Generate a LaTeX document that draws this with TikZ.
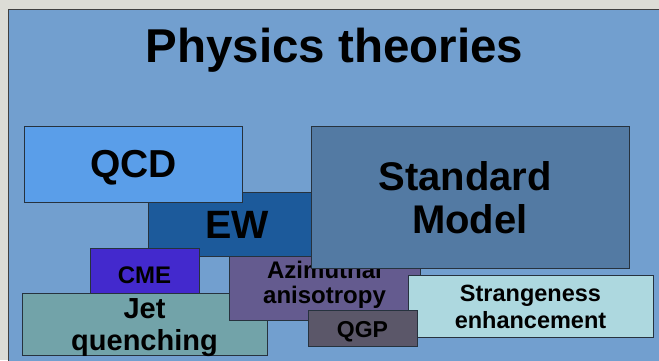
\documentclass[tikz,border=0pt]{standalone}
\usepackage{fontspec}
\setmainfont{Liberation Sans}
\definecolor{outerbg}{HTML}{DCDCD6}
\definecolor{panel}{HTML}{729FCF}
\definecolor{boxline}{HTML}{26323E}
\definecolor{cqcd}{HTML}{5A9EE9}
\definecolor{cew}{HTML}{1C5A9B}
\definecolor{csm}{HTML}{537AA3}
\definecolor{ccme}{HTML}{4329CD}
\definecolor{caz}{HTML}{645B8F}
\definecolor{cjet}{HTML}{72A3A9}
\definecolor{cqgp}{HTML}{5B5769}
\definecolor{cstr}{HTML}{ADD8DF}
\newcommand{\fs}[2]{\fontsize{#1}{#2}\selectfont\bfseries}
\begin{document}
\begin{tikzpicture}[x=1pt,y=-1pt,
  box/.style={draw=boxline, line width=0.8pt, inner sep=0pt, rectangle},
  lbl/.style={anchor=base, inner sep=0pt}]
\useasboundingbox (0,0) rectangle (659,360);
\fill[outerbg] (0,0) rectangle (659,360);
\filldraw[fill=panel, draw=black!75, line width=0.8pt] (8,9) rectangle (664,366);
\node[lbl, font=\fs{47.5}{52}] (title) at (334.5,62) {Physics theories};
% EW
\node[box, fill=cew, minimum width=178pt, minimum height=64pt] (ew) at (237,224) {};
\node[lbl, font=\fs{39.5}{42}] (ewt) at (237,238) {EW};
% QCD
\node[box, fill=cqcd, minimum width=218pt, minimum height=76pt] (qcd) at (133,164) {};
\node[lbl, font=\fs{39}{42}] (qcdt) at (133.5,177) {QCD};
% CME
\node[box, fill=ccme, minimum width=109pt, minimum height=45pt] (cme) at (144.5,270.5) {};
\node[lbl, font=\fs{24}{26}] (cmet) at (144.5,283) {CME};
% Jet quenching
\node[box, fill=cjet, minimum width=245pt, minimum height=62pt] (jet) at (144.5,324) {};
\node[lbl, font=\fs{29}{32}] (jett1) at (144.5,318) {Jet};
\node[lbl, font=\fs{29}{32}] (jett2) at (144.5,350) {quenching};
% Azimuthal anisotropy
\node[box, fill=caz, minimum width=191pt, minimum height=64pt] (az) at (324.5,288) {};
\node[lbl, font=\fs{24}{26}] (azt1) at (324.5,278) {Azimuthal};
\node[lbl, font=\fs{24}{26}] (azt2) at (324.5,303) {anisotropy};
% Standard Model
\node[box, fill=csm, minimum width=318pt, minimum height=142pt] (sm) at (470,197) {};
\node[lbl, font=\fs{40}{43}] (smt1) at (465,190) {Standard};
\node[lbl, font=\fs{40}{43}] (smt2) at (470,233) {Model};
% Strangeness enhancement
\node[box, fill=cstr, minimum width=245pt, minimum height=62pt] (str) at (530.5,306) {};
\node[lbl, font=\fs{23.5}{27}] (strt1) at (530.5,301) {Strangeness};
\node[lbl, font=\fs{23.5}{27}] (strt2) at (530.5,328) {enhancement};
% QGP
\node[box, fill=cqgp, minimum width=109pt, minimum height=36pt] (qgp) at (362.5,328) {};
\node[lbl, font=\fs{23}{26}] (qgpt) at (362.5,337) {QGP};
\end{tikzpicture}
\end{document}
